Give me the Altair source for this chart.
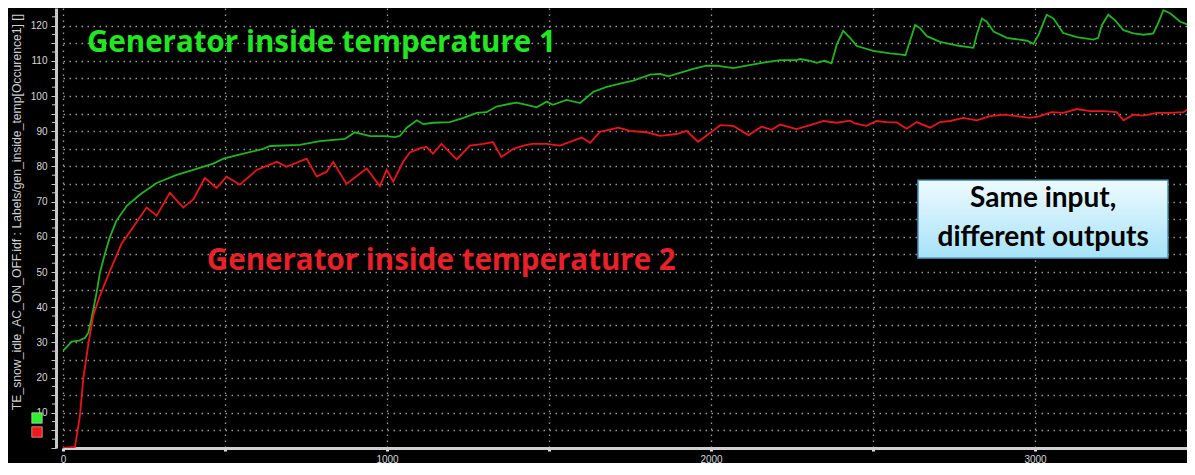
import altair as alt
import pandas as pd

# ---------------- data ----------------
green_x = [0, 27, 50, 68, 78, 88, 104, 114, 130, 145, 165, 197, 238, 289, 351, 402, 464, 495, 557, 618,
           639, 731, 793, 870, 901, 948, 994, 1025, 1040, 1061, 1092, 1112, 1143, 1194, 1236, 1277, 1307, 1338,
           1380, 1400, 1431, 1462, 1493, 1512, 1554, 1596, 1637, 1678, 1719, 1760, 1812, 1843, 1868, 1904,
           1945, 1986, 2017, 2069, 2110, 2162, 2213, 2264, 2275, 2307, 2326, 2350, 2372, 2388, 2408, 2429,
           2450, 2501, 2553, 2583, 2600, 2614, 2630, 2645, 2666, 2707, 2769, 2810, 2820, 2836, 2851, 2872,
           2913, 2975, 2995, 3011, 3036, 3057, 3087, 3129, 3180, 3195, 3206, 3226, 3247, 3273, 3304, 3335,
           3365, 3380, 3396, 3417, 3448, 3478]
green_y = [27.6, 30.2, 30.5, 31.3, 32.7, 36.8, 44.3, 49.8, 55.4, 60.0, 64.6, 68.8, 72.0, 75.3, 77.6, 79.0, 80.8, 82.2, 83.6, 85.0,
           85.8, 86.1, 87.2, 87.8, 89.7, 88.6, 88.6, 88.3, 88.7, 91.0, 93.1, 92.0, 92.4, 92.6, 93.8, 95.2, 95.4, 97.0,
           97.8, 98.1, 97.5, 96.8, 98.4, 97.5, 98.9, 98.0, 101.2, 102.6, 103.5, 104.4, 106.1, 106.3, 105.6, 106.6,
           107.7, 108.6, 108.6, 107.9, 108.6, 109.5, 110.2, 110.2, 110.5, 110.0, 109.4, 110.0, 109.3, 114.6, 118.5, 116.5,
           114.2, 112.8, 112.1, 111.8, 111.6, 115.6, 120.2, 119.3, 117.0, 115.4, 114.2, 113.7, 117.4, 122.0, 121.1, 118.3,
           116.5, 115.7, 114.8, 117.4, 123.1, 122.0, 117.9, 116.7, 116.0, 116.5, 120.1, 123.1, 121.5, 118.7, 117.8, 117.4,
           117.8, 120.7, 124.4, 123.5, 121.1, 120.1]

red_x = [0, 37, 52, 63, 78, 94, 114, 145, 181, 217, 258, 289, 330, 371, 402, 438, 474, 505, 546, 598,
         660, 690, 752, 783, 814, 834, 875, 937, 978, 999, 1019, 1050, 1071, 1102, 1122, 1142, 1168, 1215,
         1256, 1297, 1327, 1353, 1390, 1421, 1447, 1493, 1534, 1575, 1601, 1627, 1657, 1714, 1750, 1801,
         1843, 1894, 1924, 1960, 2006, 2028, 2069, 2116, 2156, 2187, 2213, 2264, 2306, 2347, 2388, 2429,
         2444, 2480, 2511, 2542, 2573, 2604, 2635, 2676, 2707, 2738, 2778, 2820, 2861, 2902, 2943, 2984,
         3015, 3051, 3087, 3129, 3170, 3211, 3252, 3273, 3304, 3335, 3376, 3417, 3458, 3478]
red_y = [0.0, 0.3, 9.0, 20.0, 29.4, 37.8, 43.3, 50.3, 58.1, 62.8, 68.3, 66.0, 72.5, 68.3, 70.6, 76.7, 73.9, 77.1, 74.8, 79.0,
         81.3, 79.9, 82.2, 77.1, 78.5, 81.3, 75.0, 79.4, 74.4, 79.0, 75.7, 81.3, 84.0, 85.2, 85.5, 83.6, 86.4, 82.0,
         85.9, 86.4, 86.9, 82.7, 85.0, 85.9, 86.4, 86.4, 85.9, 87.3, 88.2, 86.7, 89.8, 91.0, 90.1, 89.7,
         88.7, 89.2, 90.1, 87.0, 90.1, 91.7, 91.5, 88.9, 91.3, 90.4, 91.9, 90.6, 91.7, 92.9, 92.4, 93.0,
         92.2, 91.5, 92.9, 92.6, 92.5, 90.7, 92.6, 91.0, 92.6, 92.9, 93.8, 93.1, 94.3, 94.7, 94.3, 93.8,
         94.3, 95.4, 95.2, 96.3, 95.7, 95.7, 95.4, 93.1, 94.7, 94.4, 95.2, 95.2, 95.4, 96.6]

series_names = ["Generator inside temperature 1", "Generator inside temperature 2"]
series_colors = ["#22b422", "#e8161b"]
label_colors = ["#22e622", "#e8202a"]

x_tick_values = list(range(0, 3501, 500))
y_tick_values = list(range(0, 121, 5))
y_minor_values = [v + 2.5 for v in range(0, 121, 5)]

axis_title = "TE_snow_idle_AC_ON_OFF.idf : Labels/gen_inside_temp[Occurence1] []"
note_lines = ["Same input,", "different outputs"]

# ---------------- layout ----------------
W, H = 1124, 440
XMAX, YMAX = 3469, 125

df = pd.concat([
    pd.DataFrame({"t": green_x, "v": green_y, "s": series_names[0]}),
    pd.DataFrame({"t": red_x, "v": red_y, "s": series_names[1]}),
])

xs = alt.Scale(domain=[0, XMAX], nice=False, zero=False)
ys = alt.Scale(domain=[0, YMAX], nice=False)

x_axis = alt.Axis(values=x_tick_values, title=None, grid=True, format="d",
                  labelExpr="datum.value % 1000 == 0 ? datum.label : ''",
                  labelFont="Liberation Sans", labelFontSize=10, labelColor="#d8d8d8",
                  labelPadding=3, labelFlush=False, labelOverlap=False,
                  domainColor="#d0d0d0", domainWidth=3,
                  tickColor="#e0e0e0", tickSize=3, tickWidth=3,
                  gridColor="#9a9a9a", gridDash=[1.5, 4.5], gridWidth=1.3)
y_axis = alt.Axis(values=y_tick_values, title=None, grid=True, offset=7, format="d",
                  labelExpr="(datum.value % 10 == 0 && datum.value > 0) ? datum.label : ''",
                  labelFont="Liberation Sans", labelFontSize=10, labelColor="#d8d8d8",
                  labelPadding=4, labelOverlap=False,
                  domainColor="#c8c8c8", domainWidth=3,
                  tickColor="#c8c8c8", tickSize=5, tickWidth=1,
                  gridColor="#9a9a9a", gridDash=[1.5, 4.5], gridWidth=1.3)

lines = alt.Chart(df).mark_line(strokeWidth=1.8, clip=True).encode(
    x=alt.X("t:Q", scale=xs, axis=x_axis),
    y=alt.Y("v:Q", scale=ys, axis=y_axis),
    color=alt.Color("s:N", scale=alt.Scale(domain=series_names, range=series_colors), legend=None),
)

minor = alt.Chart(pd.DataFrame({"v": y_minor_values})).mark_rule(color="#c8c8c8", strokeWidth=1).encode(
    y=alt.Y("v:Q", scale=ys, axis=None),
    x=alt.value(-11), x2=alt.value(-8),
)

# series labels, placed in data coordinates
lab_df = pd.DataFrame({"t": [74, 444], "v": [112.6, 50.6], "txt": series_names, "s": series_names})
labels = alt.Chart(lab_df).mark_text(font="Open Sans", fontWeight="bold", fontSize=29.5, align="left",
                                      baseline="alphabetic").encode(
    x=alt.X("t:Q", scale=xs, axis=None),
    y=alt.Y("v:Q", scale=ys, axis=None),
    text="txt:N",
    color=alt.Color("s:N", scale=alt.Scale(domain=series_names, range=label_colors), legend=None),
)

# note box
box_df = pd.DataFrame({"t": [2639], "t2": [3410], "v": [54.0], "v2": [76.1]})
grad = alt.LinearGradient(gradient="linear", x1=0, y1=0, x2=0, y2=1,
                          stops=[alt.GradientStop(color="#eefaff", offset=0),
                                 alt.GradientStop(color="#a6e2f8", offset=1)])
box = alt.Chart(box_df).mark_rect(color=grad, stroke="#5b9fbf", strokeWidth=1.5).encode(
    x=alt.X("t:Q", scale=xs, axis=None), x2="t2:Q",
    y=alt.Y("v:Q", scale=ys, axis=None), y2="v2:Q",
)
note_df = pd.DataFrame({"t": [3025, 3025], "v": [70.6, 59.8], "txt": note_lines})
note = alt.Chart(note_df).mark_text(font="Lato", fontWeight="bold", fontSize=28, color="#000000",
                                     align="center", baseline="middle").encode(
    x=alt.X("t:Q", scale=xs, axis=None),
    y=alt.Y("v:Q", scale=ys, axis=None),
    text="txt:N",
)

# rotated axis title
title = alt.Chart(pd.DataFrame({"txt": [axis_title]})).mark_text(
    font="Liberation Sans", fontSize=12.2, color="#cfcfcf", angle=270,
    align="center", baseline="middle").encode(
    x=alt.value(-46), y=alt.value(204), text="txt:N")

# small coloured legend squares
sq_green = alt.Chart(pd.DataFrame({"s": [series_names[0]]})).mark_square(
    size=110, opacity=1, color="#2ef02e", stroke="#dddddd", strokeWidth=0.6).encode(
    x=alt.value(-26), y=alt.value(410))
sq_red = alt.Chart(pd.DataFrame({"s": [series_names[1]]})).mark_square(
    size=110, opacity=1, color="#f01818", stroke="#dddddd", strokeWidth=0.6).encode(
    x=alt.value(-26), y=alt.value(424))

chart = alt.layer(lines, minor, labels, box, note, title, sq_green, sq_red).resolve_scale(
    color="independent").resolve_axis(x="independent", y="independent").properties(
    width=W, height=H,
    autosize=alt.AutoSizeParams(type="none"),
    padding={"left": 55, "top": 0, "right": 0, "bottom": 15},
    background="#000000",
).configure_view(stroke=None)

chart.save("out.html", embed_options={"renderer": "svg", "actions": False})
